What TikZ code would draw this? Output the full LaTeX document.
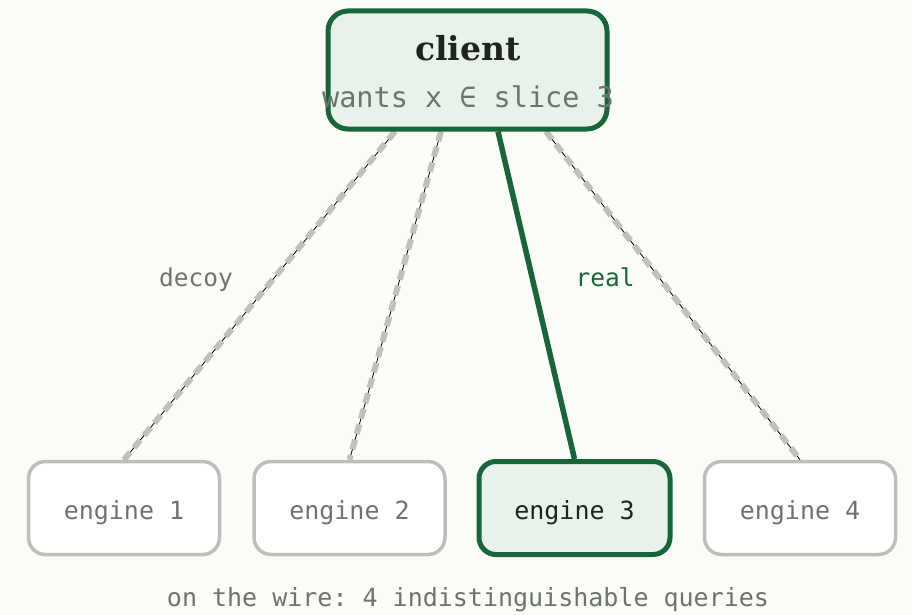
\documentclass[tikz,border=0pt]{standalone}
\usepackage{fontspec}
\setmonofont{DejaVu Sans Mono}
\newfontfamily\titlefont{DejaVu Serif}
\usetikzlibrary{backgrounds}
\definecolor{pagebg}{HTML}{FBFCF8}
\definecolor{dgreen}{HTML}{17663A}
\definecolor{lgreen}{HTML}{E8F2EA}
\definecolor{boxgray}{HTML}{BBC0BB}
\definecolor{txtgray}{HTML}{6D746F}
\definecolor{dashgray}{HTML}{BEC2BE}
\definecolor{darktxt}{HTML}{1F2420}
\tikzset{
  enginebox/.style={draw=boxgray, line width=3.5pt, fill=white, rounded corners=17pt,
    minimum width=191pt, minimum height=93pt, inner sep=0pt},
  realbox/.style={enginebox, draw=dgreen, line width=5pt, fill=lgreen},
  clientbox/.style={draw=dgreen, line width=5pt, fill=lgreen, rounded corners=20pt,
    minimum width=279pt, minimum height=118pt, inner sep=0pt},
  enginetxt/.style={anchor=base, inner sep=0pt, font=\ttfamily\fontsize{25}{28}\selectfont, text=txtgray},
  decoyline/.style={draw=black, line width=0.8pt},
  decoydash/.style={draw=dashgray, line width=6pt, dash pattern=on 10pt off 6pt},
  realline/.style={draw=dgreen, line width=5.5pt},
  lbl/.style={anchor=base, font=\ttfamily\fontsize{24.5}{28}\selectfont, inner sep=0pt},
}
\begin{document}
\begin{tikzpicture}[x=1pt, y=-1pt]
\useasboundingbox (0,0) rectangle (912,615);
\node[clientbox] (client) at (467.5,70) {};
\node[anchor=base, font=\titlefont\bfseries\fontsize{33}{36}\selectfont, text=darktxt, inner sep=0pt] (ctitle) at (468,61) {client};
\node[anchor=base, font=\ttfamily\fontsize{28.5}{32}\selectfont, text=txtgray, inner sep=0pt] (csub) at (468,107) {wants x ∈ slice 3};
\node[enginebox] (e1) at (124,508) {};
\node[enginebox] (e2) at (349.5,508) {};
\node[realbox] (e3) at (574.5,508) {};
\node[enginebox] (e4) at (800,508) {};
\node[enginetxt] (t1) at (124,519) {engine 1};
\node[enginetxt] (t2) at (349.5,519) {engine 2};
\node[enginetxt, text=darktxt] (t3) at (574.5,519) {engine 3};
\node[enginetxt] (t4) at (800,519) {engine 4};
\node[lbl, text=txtgray] (decoy) at (196,286) {decoy};
\node[lbl, text=dgreen] (real) at (605,286) {real};
\node[lbl, font=\ttfamily\fontsize{25}{28}\selectfont, text=txtgray] (caption) at (468,606) {on the wire: 4 indistinguishable queries};
\begin{pgfonlayer}{background}
\fill[pagebg] (0,0) rectangle (912,615);
\coordinate (c1) at ([xshift=-72.5pt]client.south);
\coordinate (c2) at ([xshift=-26.5pt]client.south);
\coordinate (c3) at ([xshift=30.5pt]client.south);
\coordinate (c4) at ([xshift=78.5pt]client.south);
\draw[decoyline] (c1) -- (e1.north);
\draw[decoydash] (c1) -- (e1.north);
\draw[decoyline] (c2) -- (e2.north);
\draw[decoydash] (c2) -- (e2.north);
\draw[decoyline] (c4) -- (e4.north);
\draw[decoydash] (c4) -- (e4.north);
\draw[realline] (c3) -- (e3.north);
\end{pgfonlayer}
\end{tikzpicture}
\end{document}
